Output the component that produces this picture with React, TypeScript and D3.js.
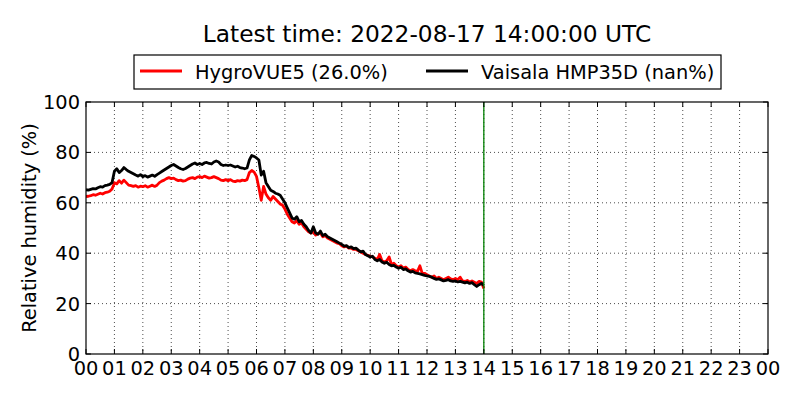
import React from "react";
import * as d3 from "d3";

// 5-minute samples from 00:00 to 14:00 (hours as x)
const vaisala: number[] = [
  65.2, 65.0, 65.3, 65.6, 65.5, 66.0, 66.4, 66.2, 66.8, 67.0, 67.3, 68.0,
  72.5, 73.5, 72.0, 72.8, 74.0, 73.2, 72.5, 72.0, 71.5, 71.0, 70.6, 71.2,
  70.4, 70.8, 70.2, 70.6, 71.0, 70.5, 71.2, 71.8, 72.4, 73.0, 73.6, 74.2,
  74.8, 75.2, 74.6, 74.0, 73.5, 73.2, 73.6, 74.2, 74.8, 75.4, 75.8, 75.2,
  75.6, 75.2, 75.8, 76.0, 75.6, 75.4, 76.2, 76.6, 76.2, 75.2, 74.8, 75.0,
  74.8, 75.0, 74.6, 74.2, 74.5, 74.0, 73.8, 73.5, 73.8, 77.0, 78.8, 78.4,
  77.8, 77.0, 71.0, 72.5, 68.0, 66.5, 65.0, 64.5, 63.8, 63.5, 63.0, 61.5,
  60.0, 58.0, 56.0, 54.0, 53.5, 54.5, 52.5, 53.0, 51.5, 50.5, 49.0, 48.0,
  50.5, 48.0, 47.5, 48.8, 47.0, 47.5, 46.5, 46.0, 45.5, 45.0, 44.5, 44.0,
  43.5, 42.8, 43.0, 42.2, 42.5, 41.8, 42.0, 41.2, 40.5, 40.8, 39.5, 39.0,
  38.5, 38.8, 37.5, 37.0, 37.5, 36.5, 36.0, 36.4, 35.5, 35.0, 35.2, 34.5,
  34.0, 34.4, 33.5, 33.8, 33.0, 32.5, 32.8, 32.2, 32.0, 31.8, 31.5, 31.2,
  31.0, 30.8, 30.5, 30.0, 29.6, 29.8, 29.4, 29.0, 29.2, 29.5, 29.0, 28.8,
  29.0, 28.6, 28.8, 28.5, 28.2, 28.5, 28.0, 28.3, 27.5, 26.8, 27.5, 28.0,
  27.2,
];

const hygrovue: number[] = [
  62.5, 62.6, 62.8, 63.2, 63.0, 63.4, 63.8, 63.5, 64.0, 64.2, 64.6, 65.5,
  68.0, 67.5, 68.8, 67.8, 69.0, 68.0, 67.0, 66.8, 66.5, 66.8, 66.2, 66.6,
  66.4, 66.8, 66.2, 66.6, 67.0, 66.5, 67.0, 68.0, 68.6, 69.0, 69.6, 70.0,
  69.6, 69.8, 69.2, 68.8, 69.0, 68.6, 68.8, 69.4, 69.8, 70.0, 69.6, 70.2,
  70.4, 70.0, 70.6, 70.2, 69.8, 70.0, 70.4, 70.0, 69.6, 69.0, 68.8, 69.2,
  68.8, 69.2, 68.6, 68.4, 68.8, 68.6, 69.0, 68.8, 69.2, 72.0, 72.8, 72.2,
  70.5, 66.0, 61.0, 66.5, 63.5, 62.0, 61.0, 62.5, 61.5, 60.5, 59.5, 59.0,
  57.5, 55.5, 54.0, 52.5, 52.0, 53.0, 51.5, 52.0, 50.5, 49.5, 48.5, 48.0,
  48.5, 47.2, 47.8, 48.0, 46.5, 47.0, 46.0, 45.5, 45.0, 44.5, 44.0, 43.8,
  43.0, 42.5, 42.8, 42.0, 42.0, 41.5, 41.5, 41.0, 40.5, 40.0, 39.5, 39.2,
  38.8, 38.5, 38.0, 37.5, 39.5, 37.0, 36.5, 37.0, 38.5, 35.5, 36.0, 35.0,
  34.5, 35.0, 34.0, 34.5, 33.5, 33.0, 33.5, 33.0, 32.8, 35.0, 32.0, 32.0,
  31.5, 31.0, 30.5, 31.0, 30.0, 30.5, 30.0, 29.5, 30.0, 30.5, 29.8, 29.5,
  30.0, 29.5, 30.5, 29.0, 28.8, 29.2, 28.6, 29.0, 28.5, 28.0, 28.8, 28.5,
  26.0,
];

const hourTicks: number[] = d3.range(0, 25);
const hourLabels: string[] = hourTicks.map((h) => String(h % 24).padStart(2, "0"));
const yTicks: number[] = [0, 20, 40, 60, 80, 100];
const latestHour = 14;
const titleText = "Latest time: 2022-08-17 14:00:00 UTC";
const legendLabels = ["HygroVUE5 (26.0%)", "Vaisala HMP35D (nan%)"];

const W = 800;
const H = 400;
const L = 86, R = 768, T = 102, B = 354;
const FONT = "DejaVu Sans, sans-serif";
const FS = 19.4;

export default function App() {
  const x = d3.scaleLinear().domain([0, 24]).range([L, R]);
  const y = d3.scaleLinear().domain([0, 100]).range([B, T]);
  const line = d3
    .line<number>()
    .x((_, i) => x(i / 12))
    .y((d) => y(d));

  return (
    <svg
      width={W}
      height={H}
      style={{ position: "absolute", left: 0, top: 0, background: "#fff" }}
      fontFamily={FONT}
    >
      <rect x={0} y={0} width={W} height={H} fill="#fff" />
      <defs>
        <clipPath id="plot">
          <rect x={L} y={T} width={R - L} height={B - T} />
        </clipPath>
      </defs>
      {/* grid */}
      {hourTicks.slice(1, -1).map((h) => (
        <line key={"gx" + h} x1={x(h)} x2={x(h)} y1={T} y2={B} stroke="#000" strokeWidth={0.7} strokeDasharray="1,3" />
      ))}
      {yTicks.slice(1, -1).map((v) => (
        <line key={"gy" + v} x1={L} x2={R} y1={y(v)} y2={y(v)} stroke="#000" strokeWidth={0.7} strokeDasharray="1,3" />
      ))}
      {/* lines */}
      <g clipPath="url(#plot)">
        <path d={line(hygrovue) || ""} fill="none" stroke="#ff0000" strokeWidth={2.8} strokeLinejoin="round" />
        <path d={line(vaisala) || ""} fill="none" stroke="#000" strokeWidth={2.8} strokeLinejoin="round" />
        <line x1={x(latestHour)} x2={x(latestHour)} y1={T} y2={B} stroke="#007f00" strokeWidth={1.3} />
      </g>
      {/* ticks */}
      {hourTicks.map((h) => (
        <g key={"tx" + h}>
          <line x1={x(h)} x2={x(h)} y1={B} y2={B - 5} stroke="#000" strokeWidth={1} />
          <line x1={x(h)} x2={x(h)} y1={T} y2={T + 5} stroke="#000" strokeWidth={1} />
          <text x={x(h)} y={375} textAnchor="middle" fontSize={FS} fill="#000">
            {hourLabels[h]}
          </text>
        </g>
      ))}
      {yTicks.map((v) => (
        <g key={"ty" + v}>
          <line x1={L} x2={L + 5} y1={y(v)} y2={y(v)} stroke="#000" strokeWidth={1} />
          <line x1={R} x2={R - 5} y1={y(v)} y2={y(v)} stroke="#000" strokeWidth={1} />
          <text x={80} y={y(v) + 7} textAnchor="end" fontSize={FS} fill="#000">
            {v}
          </text>
        </g>
      ))}
      {/* frame */}
      <rect x={L} y={T} width={R - L} height={B - T} fill="none" stroke="#000" strokeWidth={1.2} />
      {/* y label */}
      <text
        transform={`translate(36,${(T + B) / 2}) rotate(-90)`}
        textAnchor="middle"
        fontSize={FS}
        fill="#000"
      >
        Relative humidity (%)
      </text>
      {/* title */}
      <text x={427} y={42} textAnchor="middle" fontSize={23.3} fill="#000">
        {titleText}
      </text>
      {/* legend */}
      <rect x={134} y={55} width={587} height={34} fill="#fff" stroke="#000" strokeWidth={1.2} />
      <line x1={140} x2={182} y1={71} y2={71} stroke="#ff0000" strokeWidth={2.8} />
      <text x={195} y={79} fontSize={FS} fill="#000">
        {legendLabels[0]}
      </text>
      <line x1={426} x2={468} y1={71} y2={71} stroke="#000" strokeWidth={2.8} />
      <text x={481} y={79} fontSize={FS} fill="#000">
        {legendLabels[1]}
      </text>
    </svg>
  );
}
